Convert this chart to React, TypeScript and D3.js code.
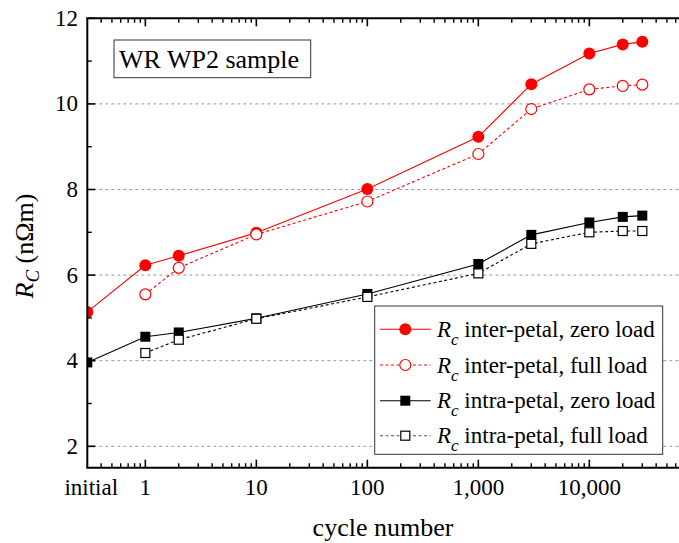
import React from "react";
import * as d3 from "d3";

const cycles = [0.3, 1, 2, 10, 100, 1000, 3000, 10000, 20000, 30000];
const cyclesFull = [1, 2, 10, 100, 1000, 3000, 10000, 20000, 30000];

const interZero = [5.14, 6.23, 6.45, 6.99, 8.01, 9.23, 10.46, 11.18, 11.39, 11.45];
const interFull = [5.55, 6.17, 6.95, 7.72, 8.83, 9.88, 10.34, 10.42, 10.45];
const intraZero = [3.96, 4.56, 4.66, 4.99, 5.56, 6.26, 6.94, 7.23, 7.36, 7.39];
const intraFull = [4.18, 4.49, 4.98, 5.49, 6.04, 6.73, 7.0, 7.03, 7.03];

const xTickValues = [0.3, 1, 10, 100, 1000, 10000, 100000];
const xTickLabels = ["initial", "1", "10", "100", "1,000", "10,000", ""];
const yTickValues = [2, 4, 6, 8, 10, 12];
const yMinorValues = [3, 5, 7, 9, 11];
const gridValues = [2, 4, 6, 8, 10];

const legendLabels = [
  "inter-petal, zero load",
  "inter-petal, full load",
  "intra-petal, zero load",
  "intra-petal, full load",
];

const FONT = "'Liberation Serif', 'Times New Roman', serif";

export default function App() {
  const left = 87.3;
  const top = 18.3;
  const bottom = 467.7;
  const decade = 111;
  const xDomain: [number, number] = [0.3, 100000];
  const right = left + decade * Math.log10(xDomain[1] / xDomain[0]);
  const x = d3.scaleLog().domain(xDomain).range([left, right]);
  const y = d3.scaleLinear().domain([1.5, 12]).range([bottom, top]);

  const minorX: number[] = [];
  for (let v = 0.4; v < 0.95; v += 0.1) minorX.push(+v.toFixed(1));
  for (let e = 0; e < 5; e++) {
    for (let m = 2; m <= 9; m++) minorX.push(m * Math.pow(10, e));
  }

  const line = d3
    .line<[number, number]>()
    .x((d) => x(d[0]))
    .y((d) => y(d[1]));

  const zipZ = (vals: number[]) => cycles.map((c, i) => [c, vals[i]] as [number, number]);
  const zipF = (vals: number[]) => cyclesFull.map((c, i) => [c, vals[i]] as [number, number]);

  const red = "#ff0000";
  const sq = 10;

  const legendY = [329.3, 365, 400.7, 435.7];

  return (
    <svg
      width={679}
      height={543}
      style={{ position: "absolute", left: 0, top: 0, background: "#fff" }}
      fontFamily={FONT}
    >
      <defs>
        <clipPath id="plot">
          <rect x={left} y={top - 10} width={right - left} height={bottom - top + 10} />
        </clipPath>
      </defs>
      <rect x={0} y={0} width={679} height={543} fill="#fff" />
      {gridValues.map((v) => (
        <line
          key={"g" + v}
          x1={left}
          x2={right}
          y1={y(v)}
          y2={y(v)}
          stroke="#999"
          strokeWidth={1}
          strokeDasharray="3,3"
        />
      ))}
      <g clipPath="url(#plot)">
        <path d={line(zipZ(interZero)) || ""} fill="none" stroke={red} strokeWidth={1.1} />
        <path
          d={line(zipF(interFull)) || ""}
          fill="none"
          stroke={red}
          strokeWidth={1.1}
          strokeDasharray="3,2.5"
        />
        <path d={line(zipZ(intraZero)) || ""} fill="none" stroke="#000" strokeWidth={1.1} />
        <path
          d={line(zipF(intraFull)) || ""}
          fill="none"
          stroke="#000"
          strokeWidth={1.1}
          strokeDasharray="3,2.5"
        />
        {cycles.map((c, i) => (
          <circle key={"iz" + i} cx={x(c)} cy={y(interZero[i])} r={6} fill={red} />
        ))}
        {cyclesFull.map((c, i) => (
          <circle
            key={"if" + i}
            cx={x(c)}
            cy={y(interFull[i])}
            r={5.5}
            fill="#fff"
            stroke={red}
            strokeWidth={1.2}
          />
        ))}
        {cycles.map((c, i) => (
          <rect
            key={"az" + i}
            x={x(c) - sq / 2}
            y={y(intraZero[i]) - sq / 2}
            width={sq}
            height={sq}
            fill="#000"
          />
        ))}
        {cyclesFull.map((c, i) => (
          <rect
            key={"af" + i}
            x={x(c) - (sq - 1) / 2}
            y={y(intraFull[i]) - (sq - 1) / 2}
            width={sq - 1}
            height={sq - 1}
            fill="#fff"
            stroke="#000"
            strokeWidth={1.2}
          />
        ))}
      </g>
      <line x1={left} x2={left} y1={top} y2={bottom} stroke="#000" strokeWidth={2} />
      <line x1={left - 1} x2={right} y1={bottom} y2={bottom} stroke="#000" strokeWidth={2} />
      <line x1={left - 1} x2={right} y1={top} y2={top} stroke="#000" strokeWidth={2} />
      <line x1={right} x2={right} y1={top} y2={bottom} stroke="#000" strokeWidth={2} />
      {xTickValues
        .filter((v) => v !== 0.3)
        .map((v) => (
          <g key={"xt" + v}>
            <line x1={x(v)} x2={x(v)} y1={bottom} y2={bottom - 8} stroke="#000" strokeWidth={1.6} />
            <line x1={x(v)} x2={x(v)} y1={top} y2={top + 8} stroke="#000" strokeWidth={1.6} />
          </g>
        ))}
      {minorX.map((v) => (
        <g key={"xm" + v}>
          <line x1={x(v)} x2={x(v)} y1={bottom} y2={bottom - 4.5} stroke="#000" strokeWidth={1.4} />
          <line x1={x(v)} x2={x(v)} y1={top} y2={top + 4.5} stroke="#000" strokeWidth={1.4} />
        </g>
      ))}
      {xTickValues.map((v, i) =>
        xTickLabels[i] ? (
          <text
            key={"xl" + v}
            x={x(v) + (v === 0.3 ? 4 : 0)}
            y={495}
            fontSize={23}
            textAnchor="middle"
            fill="#000"
          >
            {xTickLabels[i]}
          </text>
        ) : null
      )}
      {yTickValues.map((v) => (
        <g key={"yt" + v}>
          <line x1={left} x2={left + 8} y1={y(v)} y2={y(v)} stroke="#000" strokeWidth={1.6} />
          <text x={78} y={y(v)} fontSize={23} textAnchor="end" dominantBaseline="central" fill="#000">
            {v}
          </text>
        </g>
      ))}
      {yMinorValues.map((v) => (
        <line key={"ym" + v} x1={left} x2={left + 4.5} y1={y(v)} y2={y(v)} stroke="#000" strokeWidth={1.4} />
      ))}
      <text x={383} y={536} fontSize={26} textAnchor="middle" fill="#000">
        cycle number
      </text>
      <text
        transform="translate(33,246) rotate(-90)"
        fontSize={26}
        textAnchor="middle"
        fill="#000"
      >
        <tspan fontStyle="italic">R</tspan>
        <tspan fontStyle="italic" fontSize={19} dy={6}>
          C
        </tspan>
        <tspan dy={-6}> (nΩm)</tspan>
      </text>
      <rect x={114} y={40} width={196.7} height={37.7} fill="#fff" stroke="#333" strokeWidth={1} />
      <text x={119} y={67.5} fontSize={26} fill="#000">
        WR WP2 sample
      </text>
      <rect x={374.7} y={306} width={288} height={148.3} fill="#fff" stroke="#333" strokeWidth={1} />
      {legendLabels.map((lab, i) => {
        const ly = legendY[i];
        const isRed = i < 2;
        const isFull = i % 2 === 1;
        const col = isRed ? red : "#000";
        return (
          <g key={"lg" + i}>
            <line
              x1={380}
              x2={430.7}
              y1={ly}
              y2={ly}
              stroke={isFull && !isRed ? "#555" : col}
              strokeWidth={1.1}
              strokeDasharray={isFull ? "3,2.5" : undefined}
            />
            {isRed ? (
              isFull ? (
                <circle cx={405.3} cy={ly} r={5.5} fill="#fff" stroke={red} strokeWidth={1.2} />
              ) : (
                <circle cx={405.3} cy={ly} r={6} fill={red} />
              )
            ) : isFull ? (
              <rect x={405.3 - 4.5} y={ly - 4.5} width={9} height={9} fill="#fff" stroke="#000" strokeWidth={1.2} />
            ) : (
              <rect x={405.3 - 5} y={ly - 5} width={10} height={10} fill="#000" />
            )}
            <text x={437} y={ly + 7.6} fontSize={23} fill="#000">
              <tspan fontStyle="italic">R</tspan>
              <tspan fontStyle="italic" fontSize={17} dy={8}>
                c
              </tspan>
              <tspan dy={-8}> {lab}</tspan>
            </text>
          </g>
        );
      })}
    </svg>
  );
}
